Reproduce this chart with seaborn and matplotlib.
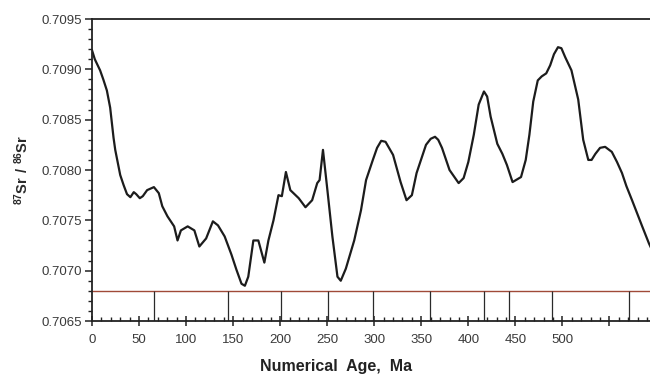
import numpy as np
import pandas as pd
import matplotlib
matplotlib.use("Agg")
import matplotlib.pyplot as plt
from matplotlib.ticker import FixedLocator, MultipleLocator, FuncFormatter
import seaborn as sns

age = [0, 3, 8.6, 12, 15.8, 19.3, 22.9, 24.7, 30, 33.6, 37.2, 40.8, 44.4, 47, 50.8, 54, 58.6, 65.8, 71,
       74.7, 80.2, 87.3, 90.9, 94.5, 101.7, 108.8, 114.1, 121.3, 128.5, 133.9, 141, 148.2, 153.5,
       158.9, 162.5, 166.1, 171.5, 176.8, 183.2, 187.5, 192.9, 198.2, 201.8, 206.1, 210.8, 219.7,
       226.9, 234, 239.4, 241.9, 245.5, 250.2, 255.5, 260.9, 264.4, 269.8, 278.7, 285.9, 291.3,
       298.5, 303, 307.4, 312, 320, 328, 334.3, 340, 345, 355, 360, 364.6, 368, 372, 380, 389.7, 395,
       400, 405.8, 411, 416.6, 420, 423.7, 430.8, 436.2, 441, 447, 456, 461, 464.9, 469, 473.8, 478,
       482.8, 487, 491, 495.3, 498.9, 503, 509.6, 516.8, 522.1, 527.5, 531, 535, 540, 545.4, 552.5,
       558, 563.3, 568, 574, 584.8, 592, 599]
sr = [0.70919, 0.70910, 0.70899, 0.70890, 0.70879, 0.70862, 0.70832, 0.70820, 0.70795, 0.70785,
      0.70776, 0.70773, 0.70778, 0.70776, 0.70772, 0.70774, 0.70780, 0.70783, 0.70777,
      0.70764, 0.70754, 0.70744, 0.70730, 0.70740, 0.70744, 0.70740, 0.70724, 0.70732, 0.70749,
      0.70745, 0.70734, 0.70716, 0.70701, 0.70687, 0.70685, 0.70694, 0.70730, 0.70730, 0.70708,
      0.70730, 0.70750, 0.70775, 0.70774, 0.70798, 0.70780, 0.70772, 0.70763, 0.70770, 0.70787,
      0.70790, 0.70820, 0.70780, 0.70734, 0.70694, 0.70690, 0.70702, 0.70730, 0.70760, 0.70790,
      0.70810, 0.70822, 0.70829, 0.70828, 0.70815, 0.70788, 0.70770, 0.70775, 0.70797, 0.70825,
      0.70831, 0.70833, 0.70830, 0.70822, 0.70800, 0.70787, 0.70792, 0.70808, 0.70835, 0.70865,
      0.70878, 0.70873, 0.70853, 0.70826, 0.70816, 0.70805, 0.70788, 0.70793, 0.70810, 0.70835,
      0.70868, 0.70889, 0.70893, 0.70896, 0.70904, 0.70915, 0.70922, 0.70921, 0.70912, 0.70899,
      0.70870, 0.70830, 0.70810, 0.70810, 0.70816, 0.70822, 0.70823, 0.70818, 0.70808, 0.70797,
      0.70784, 0.70770, 0.70744, 0.70727, 0.70713]

boundaries = [66, 145, 201, 251, 299, 359, 417, 443, 489, 571]
x_ticks = [0, 50, 100, 150, 200, 250, 300, 350, 400, 450, 500, 550, 600]
x_labels = ["0", "50", "100", "150", "200", "250", "300", "350", "400", "450", "500", "", ""]
y_ticks = [0.7065, 0.7070, 0.7075, 0.7080, 0.7085, 0.7090, 0.7095]

df = pd.DataFrame({"age": age, "sr": sr})

sns.set_style("ticks")
plt.rcParams["font.family"] = ["Liberation Sans", "DejaVu Sans"]
plt.rcParams["mathtext.fontset"] = "custom"
plt.rcParams["mathtext.rm"] = "Liberation Sans"
plt.rcParams["mathtext.bf"] = "Liberation Sans:bold"

fig = plt.figure(figsize=(6.5, 3.74), dpi=100)
ax = fig.add_axes([92 / 650, 1 - 321 / 374, 1 - 92 / 650 + 0.01, (321 - 19) / 374])

sns.lineplot(data=df, x="age", y="sr", ax=ax, color="#1c1c1c", lw=1.6)

ax.set_xlim(0, 600)
ax.set_ylim(0.7065, 0.7095)

ax.axhline(0.7068, color="#a04a38", lw=1.0, zorder=1)
ax.vlines(boundaries, 0.7065, 0.7068, colors="#2a2a2a", lw=0.9, zorder=1)

ax.xaxis.set_major_locator(FixedLocator(x_ticks))
ax.set_xticklabels(x_labels)
ax.xaxis.set_minor_locator(MultipleLocator(10))
ax.yaxis.set_major_locator(FixedLocator(y_ticks))
ax.yaxis.set_major_formatter(FuncFormatter(lambda v, p: f"{v:.4f}"))
ax.yaxis.set_minor_locator(MultipleLocator(0.0001))

ax.tick_params(axis="x", which="major", direction="inout", length=7, width=1.1, color="#222",
               labelsize=9.5, labelcolor="#3a3a3a", pad=6)
ax.tick_params(axis="x", which="minor", direction="in", length=3, width=1.0, color="#222")
ax.tick_params(axis="y", which="major", direction="out", length=5, width=1.1, color="#222",
               labelsize=9.5, labelcolor="#3a3a3a", pad=2)
ax.tick_params(axis="y", which="minor", direction="out", length=3, width=1.0, color="#222")

for s in ["left", "bottom", "top"]:
    ax.spines[s].set_color("#222")
    ax.spines[s].set_linewidth(1.3)
ax.spines["right"].set_visible(False)

ax.set_xlabel("Numerical  Age,  Ma", fontsize=11.5, fontweight="bold", color="#222")
ax.xaxis.set_label_coords((333 - 92) / 558, -0.125)
ax.set_ylabel(r"$\mathbf{^{87}Sr\ /\ ^{86}Sr}$", fontsize=10.5, color="#2a2a2a", labelpad=8)

fig.savefig("out.png", dpi=100)
